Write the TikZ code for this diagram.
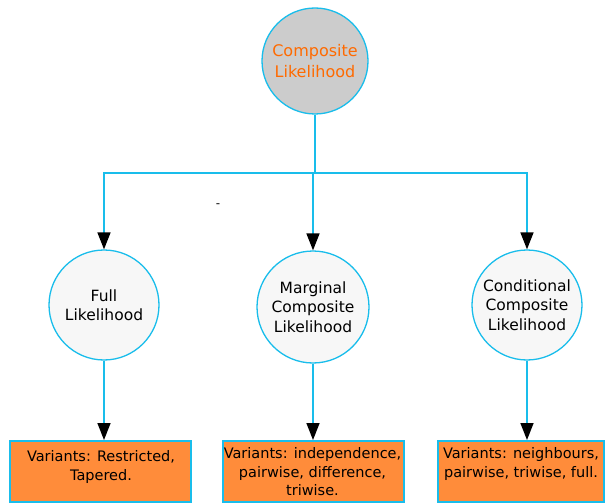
\documentclass[tikz,border=0pt]{standalone}
\usepackage{fontspec}
\setmainfont{DejaVu Sans}
\usetikzlibrary{arrows.meta}
\definecolor{cyanline}{HTML}{19BDEB}
\definecolor{toporange}{HTML}{FF6A00}
\definecolor{boxorange}{HTML}{FF8C3A}
\begin{document}
\begin{tikzpicture}[x=1pt,y=-1pt,
  conn/.style={draw=cyanline,line width=1.6pt},
  arr/.style={conn,-{Triangle[length=17pt,width=13pt,black]}},
  circ/.style={circle,draw=cyanline,line width=1.3pt,fill=black!3,minimum size=110pt,inner sep=0pt,align=center,font=\fontsize{15.5}{19.5}\selectfont},
  varbox/.style={rectangle,draw=cyanline,line width=1.5pt,fill=boxorange,minimum height=61pt,anchor=north west},
  vartext/.style={anchor=north,align=center,inner sep=0pt,font=\fontsize{14.5}{18.8}\selectfont}]
\useasboundingbox (0,0) rectangle (606,503);
\node[circle,draw=cyanline,line width=1.3pt,fill=black!20,minimum size=106pt,inner sep=0pt,align=center,text=toporange,font=\fontsize{16}{20.5}\selectfont] (top) at (315,61) {Composite\\Likelihood};
\node[circ] (full) at (104,305) {Full\\Likelihood};
\node[circ,minimum size=112pt] (marg) at (313,307) {Marginal\\Composite\\Likelihood};
\node[circ] (cond) at (527,305) {Conditional\\Composite\\Likelihood};
\node[varbox,minimum width=181pt] (b1) at (9,440) {};
\node[vartext] (t1) at (101,450) {Variants: Restricted,\\Tapered.};
\node[varbox,minimum width=181pt] (b2) at (222,440) {};
\node[vartext] (t2) at (312.5,447) {Variants: independence,\\pairwise, difference,\\triwise.};
\node[varbox,minimum width=166pt] (b3) at (437,440) {};
\node[vartext] (t3) at (521,447) {Variants: neighbours,\\pairwise, triwise, full.};
\node[font=\fontsize{12}{14}\selectfont] (dash) at (218,206) {-};
\coordinate (j) at (315,173);
\draw[conn] (top.south) -- (j);
\draw[arr] (j) -| (full.north);
\draw[arr] (j) -- (313,173) -- (marg.north);
\draw[arr] (j) -| (cond.north);
\draw[arr] (full.south) -- (b1.north -| full.south);
\draw[arr] (marg.south) -- (b2.north -| marg.south);
\draw[arr] (cond.south) -- (b3.north -| cond.south);
\end{tikzpicture}
\end{document}
